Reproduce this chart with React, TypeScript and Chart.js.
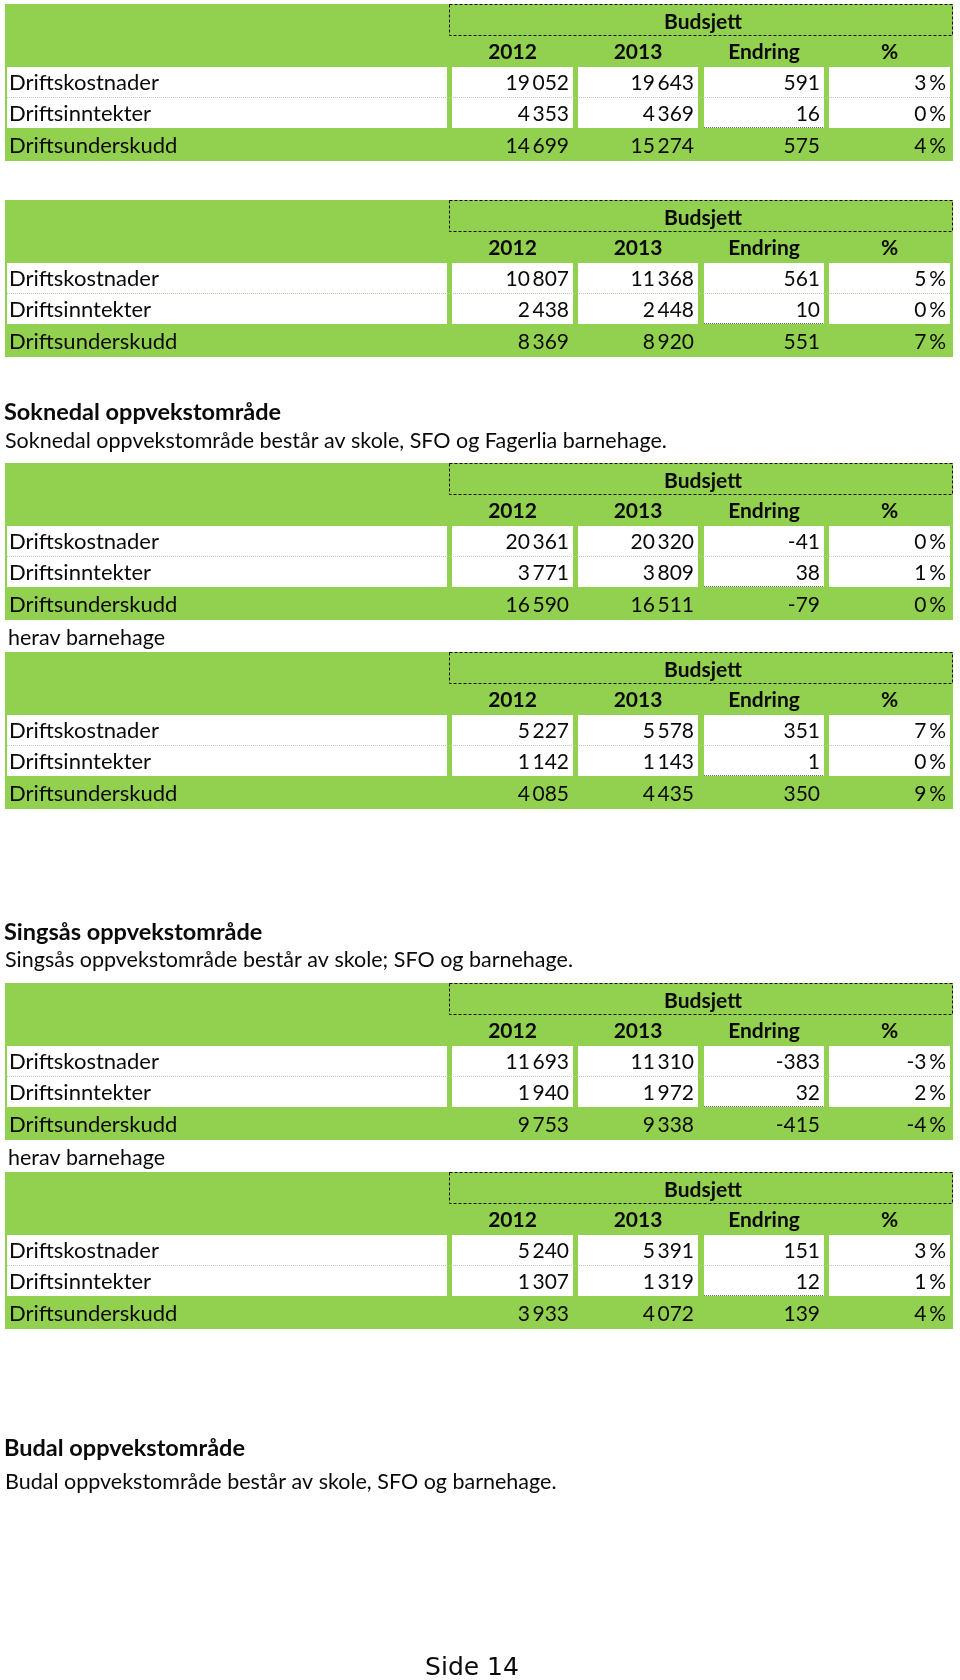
import React, { useEffect, useRef } from "react";
import { Chart, registerables } from "chart.js";
Chart.register(...registerables);

// ---------- data ----------
const rowLabels = ["Driftskostnader", "Driftsinntekter", "Driftsunderskudd"];
const colHeaders = ["2012", "2013", "Endring", "%"];
const groupHeader = "Budsjett";

const t1_2012 = [19052, 4353, 14699];
const t1_2013 = [19643, 4369, 15274];
const t1_endring = [591, 16, 575];
const t1_pct = [3, 0, 4];

const t2_2012 = [10807, 2438, 8369];
const t2_2013 = [11368, 2448, 8920];
const t2_endring = [561, 10, 551];
const t2_pct = [5, 0, 7];

const t3_2012 = [20361, 3771, 16590];
const t3_2013 = [20320, 3809, 16511];
const t3_endring = [-41, 38, -79];
const t3_pct = [0, 1, 0];

const t4_2012 = [5227, 1142, 4085];
const t4_2013 = [5578, 1143, 4435];
const t4_endring = [351, 1, 350];
const t4_pct = [7, 0, 9];

const t5_2012 = [11693, 1940, 9753];
const t5_2013 = [11310, 1972, 9338];
const t5_endring = [-383, 32, -415];
const t5_pct = [-3, 2, -4];

const t6_2012 = [5240, 1307, 3933];
const t6_2013 = [5391, 1319, 4072];
const t6_endring = [151, 12, 139];
const t6_pct = [3, 1, 4];

const headingTexts = [
  "Soknedal oppvekstområde",
  "Singsås oppvekstområde",
  "Budal oppvekstområde",
];
const paragraphTexts = [
  "Soknedal oppvekstområde består av skole, SFO og Fagerlia barnehage.",
  "herav barnehage",
  "Singsås oppvekstområde består av skole; SFO og barnehage.",
  "herav barnehage",
  "Budal oppvekstområde består av skole, SFO og barnehage.",
];
const footerText = "Side 14";

// ---------- layout (positions only) ----------
const tableTops = [4, 200, 463, 652, 983, 1172];
const headingYs = [412, 932, 1448];
const paragraphYs = [441, 638, 960, 1158, 1482];
const colLeft = [452, 578, 704, 829];
const colRight = [573, 698, 824, 950];

const GREEN = "#92D050";
const FONT = "Lato, 'Open Sans', sans-serif";

const tables = [
  [t1_2012, t1_2013, t1_endring, t1_pct],
  [t2_2012, t2_2013, t2_endring, t2_pct],
  [t3_2012, t3_2013, t3_endring, t3_pct],
  [t4_2012, t4_2013, t4_endring, t4_pct],
  [t5_2012, t5_2013, t5_endring, t5_pct],
  [t6_2012, t6_2013, t6_endring, t6_pct],
];

const fmtNum = (v: number) => {
  const s = Math.abs(v).toString().replace(/\B(?=(\d{3})+(?!\d))/g, "\u2009");
  return (v < 0 ? "-" : "") + s;
};
const fmtPct = (v: number) => (v < 0 ? "-" : "") + Math.abs(v) + "\u2009%";

const pagePlugin = {
  id: "pageTables",
  afterDraw(chart: any) {
    const ctx = chart.ctx as CanvasRenderingContext2D;
    const xs = chart.scales.x;
    const ys = chart.scales.y;
    const X = (v: number) => xs.getPixelForValue(v);
    const Y = (v: number) => ys.getPixelForValue(v);
    const rect = (x0: number, y0: number, x1: number, y1: number, c: string) => {
      ctx.fillStyle = c;
      ctx.fillRect(X(x0), Y(y0), X(x1) - X(x0), Y(y1) - Y(y0));
    };
    ctx.save();
    ctx.textBaseline = "middle";

    tables.forEach((cols, ti) => {
      const T = tableTops[ti];
      rect(5, T, 953, T + 157, GREEN);
      // white cells rows 1-2
      rect(7, T + 63, 447, T + 124, "#ffffff");
      colLeft.forEach((l, ci) => rect(l, T + 63, colRight[ci], T + 124, "#ffffff"));
      // dotted separator
      ctx.strokeStyle = "#b9cfa6";
      ctx.lineWidth = 1;
      ctx.setLineDash([1, 1]);
      ctx.beginPath();
      ctx.moveTo(X(7), Y(T + 93) + 0.5);
      ctx.lineTo(X(950), Y(T + 93) + 0.5);
      ctx.stroke();
      // dotted below Endring row 2
      ctx.strokeStyle = "#666";
      ctx.beginPath();
      ctx.moveTo(X(704), Y(T + 124) - 0.5);
      ctx.lineTo(X(824), Y(T + 124) - 0.5);
      ctx.stroke();
      // dashed Budsjett box
      ctx.strokeStyle = "#111";
      ctx.setLineDash([3, 2]);
      ctx.strokeRect(X(449) + 0.5, Y(T) + 0.5, X(952) - X(449), Y(T + 31) - Y(T));
      ctx.setLineDash([]);

      ctx.fillStyle = "#0a0a0a";
      ctx.font = `bold 21px ${FONT}`;
      ctx.textAlign = "center";
      ctx.fillText(groupHeader, X(703), Y(T + 18));
      colHeaders.forEach((h, ci) =>
        ctx.fillText(h, X((colLeft[ci] + colRight[ci]) / 2), Y(T + 48))
      );
      const rowY = [T + 79, T + 110, T + 142];
      rowLabels.forEach((lab, ri) => {
        ctx.font = `22px ${FONT}`;
        ctx.textAlign = "left";
        ctx.fillText(lab, X(9), Y(rowY[ri]));
        ctx.font = `21px ${FONT}`;
        ctx.textAlign = "right";
        cols.forEach((arr, ci) => {
          const txt = ci === 3 ? fmtPct(arr[ri]) : fmtNum(arr[ri]);
          ctx.fillText(txt, X(colRight[ci] - 4), Y(rowY[ri]));
        });
      });
    });

    ctx.fillStyle = "#0a0a0a";
    ctx.textAlign = "left";
    ctx.font = `bold 23.5px ${FONT}`;
    headingTexts.forEach((t, i) => ctx.fillText(t, X(4), Y(headingYs[i])));
    ctx.font = `21.5px ${FONT}`;
    paragraphTexts.forEach((t, i) => ctx.fillText(t, X(t.startsWith("herav") ? 8 : 5), Y(paragraphYs[i])));

    ctx.textAlign = "center";
    ctx.font = `25px 'DejaVu Sans', sans-serif`;
    ctx.fillText(footerText, X(472), Y(1668));
    ctx.restore();
  },
};

export default function App() {
  const ref = useRef<HTMLCanvasElement | null>(null);
  useEffect(() => {
    if (!ref.current) return;
    const chart = new Chart(ref.current, {
      type: "scatter",
      data: { datasets: [{ data: [], pointRadius: 0 }] },
      options: {
        animation: false,
        responsive: false,
        events: [],
        layout: { padding: 0 },
        plugins: { legend: { display: false }, tooltip: { enabled: false } },
        scales: {
          x: { type: "linear", min: 0, max: 960, display: false },
          y: { type: "linear", min: 0, max: 1680, reverse: true, display: false },
        },
      },
      plugins: [pagePlugin],
    });
    return () => chart.destroy();
  }, []);
  return (
    <div style={{ position: "absolute", left: 0, top: 0, width: 960, height: 1680, background: "#fff" }}>
      <canvas ref={ref} width={960} height={1680} style={{ display: "block" }} />
    </div>
  );
}
